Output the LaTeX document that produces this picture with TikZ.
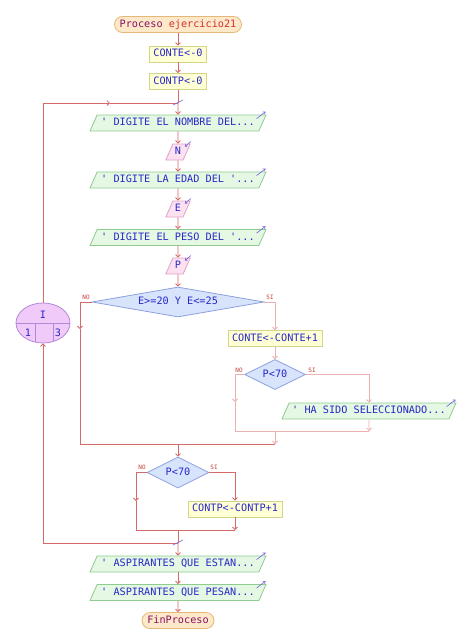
\documentclass[tikz,border=0pt]{standalone}
\usepackage{fontspec}
\newfontfamily\flowmono[Ligatures=TeXOff]{DejaVu Sans Mono}
\usetikzlibrary{shapes.geometric,arrows.meta}
\definecolor{lineR}{HTML}{D46A6A}
\definecolor{lineL}{HTML}{EBB0B0}
\definecolor{txtB}{HTML}{2828C8}
\definecolor{termF}{HTML}{FDE9C9}
\definecolor{termB}{HTML}{E6B878}
\definecolor{termP}{HTML}{8A1060}
\definecolor{termR}{HTML}{D03030}
\definecolor{procF}{HTML}{FFFFD6}
\definecolor{procB}{HTML}{D4D48A}
\definecolor{outF}{HTML}{E4F8E4}
\definecolor{outB}{HTML}{90CC90}
\definecolor{inF}{HTML}{FCE2F0}
\definecolor{inB}{HTML}{E0A0C8}
\definecolor{decF}{HTML}{D8E4FC}
\definecolor{decB}{HTML}{8CA0E0}
\definecolor{ellF}{HTML}{F0CAF8}
\definecolor{ellB}{HTML}{B488D8}
\definecolor{markC}{HTML}{7060D8}
\definecolor{lblR}{HTML}{C84040}
\begin{document}
\begin{tikzpicture}[x=1pt,y=-1pt,
  base/.style={font=\flowmono\fontsize{10.2}{12}\selectfont, text=txtB, line width=0.8pt,
    text height=7pt, text depth=2pt, inner xsep=2pt, inner ysep=3.5pt},
  term/.style={base, rectangle, rounded corners=8pt, draw=termB, fill=termF, minimum height=16pt},
  proc/.style={base, rectangle, draw=procB, fill=procF, minimum height=16pt},
  outp/.style={base, trapezium, trapezium left angle=66, trapezium right angle=114,
    trapezium stretches body, draw=outB, fill=outF, minimum width=176pt},
  inp/.style={base, trapezium, trapezium left angle=66, trapezium right angle=114,
    trapezium stretches body, draw=inB, fill=inF, minimum width=24pt},
  dec/.style={base, diamond, draw=decB, fill=decF, inner sep=1pt},
  flow/.style={draw=lineR, line width=0.8pt},
  lflow/.style={draw=lineL, line width=0.8pt},
  arr/.style={-{Straight Barb[length=2.5pt,width=5pt]}},
  iomark/.style={draw=markC, line width=0.6pt, -{Straight Barb[length=2pt,width=3pt]}},
  slash/.style={draw=markC, line width=0.6pt},
  lbl/.style={font=\flowmono\fontsize{6}{6}\selectfont, text=lblR, inner sep=0pt},
  etxt/.style={font=\flowmono\fontsize{10.2}{12}\selectfont, text=txtB, inner sep=0pt}
]
\useasboundingbox (0,0) rectangle (464,640);

% nodes
\node[term, minimum width=127pt] (start) at (178,24.5) {\textcolor{termP}{Proceso} \textcolor{termR}{ejercicio21}};
\node[proc, minimum width=57pt] (a1) at (178,54) {CONTE<-0};
\node[proc, minimum width=57pt] (a2) at (178,81.5) {CONTP<-0};
\coordinate (j1) at (178,103);
\node[outp] (o1) at (178,123) {' DIGITE EL NOMBRE DEL...};
\node[inp] (n) at (178,152) {N};
\node[outp] (o2) at (178,180) {' DIGITE LA EDAD DEL '...};
\node[inp] (e) at (178,209) {E};
\node[outp] (o3) at (178,237.5) {' DIGITE EL PESO DEL '...};
\node[inp] (p) at (178,266) {P};
\node[dec, aspect=5.7, minimum width=172pt, minimum height=30pt] (d1) at (178,302) {E>=20 Y E<=25};
\node[proc, minimum width=94pt, minimum height=15pt] (b1) at (275,338.5) {CONTE<-CONTE+1};
\node[dec, aspect=2, minimum width=61pt, minimum height=30pt] (d2) at (275,374.5) {P<70};
\node[outp, minimum width=174pt] (o4) at (369,411) {' HA SIDO SELECCIONADO...};
\node[dec, aspect=2, minimum width=62pt, minimum height=31pt] (d3) at (178,472.5) {P<70};
\node[proc, minimum width=94pt] (b2) at (235,509) {CONTP<-CONTP+1};
\coordinate (j2) at (178,543);
\node[outp] (o5) at (178,564) {' ASPIRANTES QUE ESTAN...};
\node[outp] (o6) at (178,592.5) {' ASPIRANTES QUE PESAN...};
\node[term, minimum width=72pt, text=termP] (fin) at (178,620.5) {FinProceso};

% loop ellipse
\node[ellipse, draw=ellB, fill=ellF, line width=0.8pt, minimum width=54pt, minimum height=40pt, inner sep=0pt] (lp) at (43,323) {};
\draw[draw=ellB, line width=0.8pt] (lp.west) -- (lp.east);
\draw[draw=ellB, line width=0.8pt] (35,323) -- (35,342);
\draw[draw=ellB, line width=0.8pt] (53,323) -- (53,341.5);
\node[etxt] (lpI) at (43,315) {I};
\node[etxt] (lp1) at (28,333) {1};
\node[etxt] (lp3) at (58,333) {3};

% labels
\node[lbl] (l1n) at (86,297) {NO};
\node[lbl] (l1s) at (270,297) {SI};
\node[lbl] (l2n) at (239,370) {NO};
\node[lbl] (l2s) at (312,370) {SI};
\node[lbl] (l3n) at (142,467) {NO};
\node[lbl] (l3s) at (214,467) {SI};

% coordinates
\coordinate (lpA) at (110,103);
\coordinate (d1La) at (80,329);
\coordinate (d1Lb) at (80,444);
\coordinate (jd1M) at (178,444);
\coordinate (jd1R) at (275,444);
\coordinate (d2La) at (235,402);
\coordinate (d2Lb) at (235,431);
\coordinate (jd2M) at (275,431);
\coordinate (jd2R) at (369,431);
\coordinate (d3La) at (136,501);
\coordinate (d3Lb) at (136,530);
\coordinate (jd3M) at (178,530);
\coordinate (jd3R) at (235,530);

% main flow
\draw[flow,arr] (start.south) -- (a1.north);
\draw[flow,arr] (a1.south) -- (a2.north);
\draw[flow] (a2.south) -- (j1);
\draw[flow,arr] (j1) -- (o1.north);
\draw[flow,arr] (o1.south) -- (n.north);
\draw[flow,arr] (n.south) -- (o2.north);
\draw[flow,arr] (o2.south) -- (e.north);
\draw[flow,arr] (e.south) -- (o3.north);
\draw[flow,arr] (o3.south) -- (p.north);
\draw[flow,arr] (p.south) -- (d1.north);

% first decision
\draw[flow,arr] (d1.west) -| (d1La);
\draw[flow] (d1La) -- (d1Lb) -- (jd1R);
\draw[lflow,arr] (d1.east) -| (b1.north);
\draw[lflow,arr] (b1.south) -- (d2.north);
\draw[lflow,arr] (d2.west) -| (d2La);
\draw[lflow] (d2La) -- (d2Lb) -- (jd2R);
\draw[lflow,arr] (d2.east) -| (o4.north);
\draw[lflow,arr] (o4.south) -- (jd2R);
\draw[lflow,arr] (jd2M) -- (jd1R);

% second decision
\draw[flow,arr] (jd1M) -- (d3.north);
\draw[flow,arr] (d3.west) -| (d3La);
\draw[flow] (d3La) -- (d3Lb) -- (jd3R);
\draw[flow,arr] (d3.east) -| (b2.north);
\draw[flow,arr] (b2.south) -- (jd3R);
\draw[flow] (jd3M) -- (j2);

% loop back
\draw[flow,arr] (j2) -| (lp.south);
\draw[flow,arr] (lp.north) |- (lpA);
\draw[flow] (lpA) -- (j1);

% end flow
\draw[flow,arr] (j2) -- (o5.north);
\draw[flow,arr] (o5.south) -- (o6.north);
\draw[flow,arr] (o6.south) -- (fin.north);

% join slashes
\draw[slash] ([shift={(-5,2)}]j1) -- ([shift={(5,-3)}]j1);
\draw[slash] ([shift={(-5,2)}]j2) -- ([shift={(5,-3)}]j2);

% io marks
\foreach \o in {o1,o2,o3,o4,o5,o6}{
  \draw[iomark] ([shift={(-10,4)}]\o.top right corner) -- ([shift={(-1,-3)}]\o.top right corner);
}
\foreach \i in {n,e,p}{
  \draw[iomark] ([shift={(0,-2)}]\i.top right corner) -- ([shift={(-6,3)}]\i.top right corner);
}
\end{tikzpicture}
\end{document}
